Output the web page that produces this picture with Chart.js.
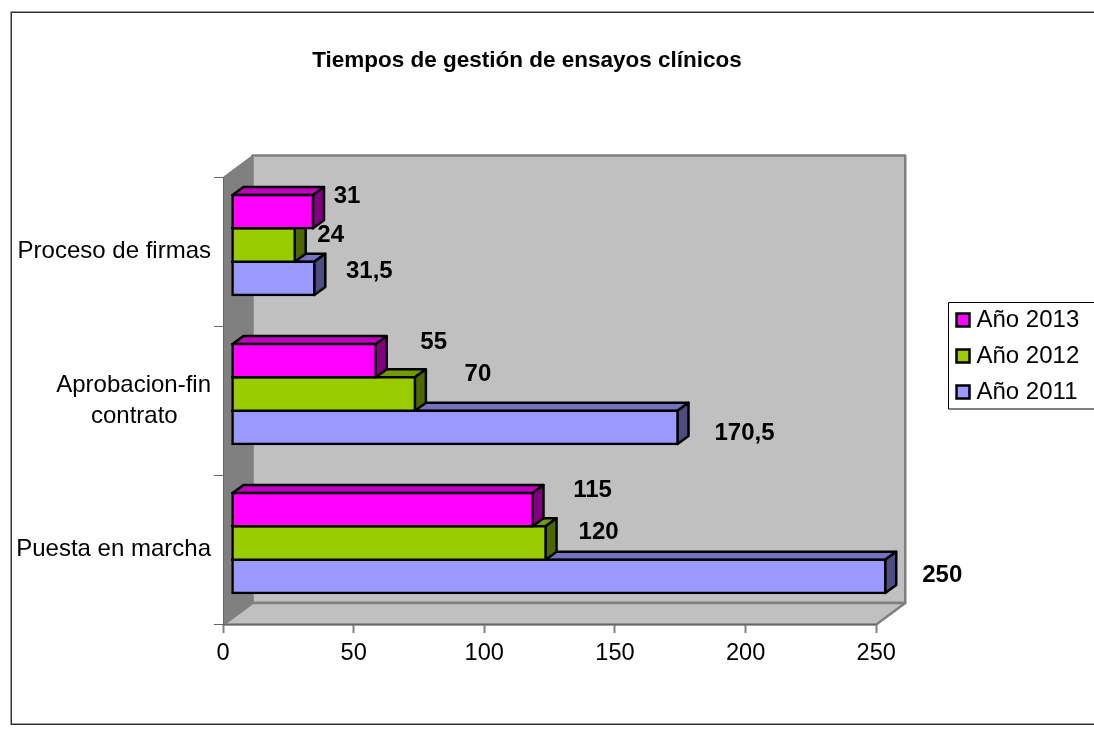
<!DOCTYPE html>
<html>
<head>
<meta charset="utf-8">
<script src="https://cdn.jsdelivr.net/npm/chart.js@4"></script>
<style>html,body{margin:0;padding:0;background:#fff}canvas{display:block}</style>
</head>
<body>
<canvas id="c" width="1094" height="731"></canvas>
<script>
const titleText = 'Tiempos de gestión de ensayos clínicos';
const categories = ['Proceso de firmas', 'Aprobacion-fin contrato', 'Puesta en marcha'];
const seriesNames = ['Año 2013', 'Año 2012', 'Año 2011'];
const values2013 = [31, 55, 115];
const values2012 = [24, 70, 120];
const values2011 = [31.5, 170.5, 250];
const xTickStep = 50;
const xMax = 250;

// label nudges relative to the end of each bar (same order as the series)
const labelNudge = [
  [[34, -16.5], [58, -19.5], [60, -20]],
  [[36, -11], [63, -21], [53, -12]],
  [[55, -8], [67, 5], [57, -2]]
];
const fills = ['#FF00FF', '#99CC00', '#9999FF'];
const tops = ['#BF00BF', '#739900', '#7373BF'];
const sides = ['#800080', '#4D6600', '#4D4D80'];
const FONT = '"Liberation Sans", Arial, sans-serif';
const WALL = {dx: 29, dy: -21.5};
const BAR_OFF = {dx: 9, dy: -6.5};
const BAR_DEPTH = {dx: 11, dy: -8};

function poly(ctx, pts, fill, stroke, lw) {
  ctx.beginPath();
  pts.forEach((p, i) => i ? ctx.lineTo(p[0], p[1]) : ctx.moveTo(p[0], p[1]));
  ctx.closePath();
  if (fill) { ctx.fillStyle = fill; ctx.fill(); }
  if (stroke) { ctx.strokeStyle = stroke; ctx.lineWidth = lw; ctx.lineJoin = 'round'; ctx.stroke(); }
}

const frame3d = {
  id: 'frame3d',
  afterLayout(chart) {
    const t = chart.titleBlock;
    t.left = 0; t.right = 1054; t.top = 49; t.bottom = 73; t.width = 1054; t.height = 24;
    const l = chart.legend;
    l.left = 949.5; l.right = 1094; l.top = 296; l.bottom = 450; l.width = l.right - l.left; l.height = l.bottom - l.top;
  },
  beforeDraw(chart) {
    const ctx = chart.ctx, a = chart.chartArea;
    ctx.save();
    ctx.fillStyle = '#fff';
    ctx.fillRect(0, 0, chart.width, chart.height);
    // outer chart frame
    ctx.strokeStyle = '#333';
    ctx.lineWidth = 1.5;
    ctx.strokeRect(11.25, 12.25, 1200, 712);
    // walls
    const L = a.left + 0.5, R = a.right, T = a.top, B = a.bottom + 0.5;
    poly(ctx, [[L + WALL.dx, T + WALL.dy], [R + WALL.dx, T + WALL.dy], [R + WALL.dx, B + WALL.dy], [L + WALL.dx, B + WALL.dy]], '#C0C0C0', '#808080', 2.5);
    poly(ctx, [[L, B], [R, B], [R + WALL.dx, B + WALL.dy], [L + WALL.dx, B + WALL.dy]], '#C0C0C0', '#808080', 2.5);
    poly(ctx, [[L, T], [L + WALL.dx, T + WALL.dy], [L + WALL.dx, B + WALL.dy], [L, B]], '#808080', '#808080', 1);
    // legend box
    ctx.strokeStyle = '#000';
    ctx.lineWidth = 1;
    ctx.fillStyle = '#fff';
    ctx.fillRect(948.5, 302.5, 200, 106.5);
    ctx.strokeRect(948.5, 302.5, 200, 106.5);
    ctx.restore();
  },
  beforeDatasetDraw(chart, args) {
    const ctx = chart.ctx, i = args.index;
    ctx.save();
    ctx.translate(BAR_OFF.dx, BAR_OFF.dy);
    const d = BAR_DEPTH;
    args.meta.data.forEach(el => {
      const x0 = el.base, x1 = el.x, y0 = el.y - el.height / 2, y1 = el.y + el.height / 2;
      poly(ctx, [[x0, y0], [x1, y0], [x1 + d.dx, y0 + d.dy], [x0 + d.dx, y0 + d.dy]], tops[i], '#000', 2.5);
      poly(ctx, [[x1, y0], [x1 + d.dx, y0 + d.dy], [x1 + d.dx, y1 + d.dy], [x1, y1]], sides[i], '#000', 2.5);
    });
  },
  afterDatasetDraw(chart) {
    chart.ctx.restore();
  },
  afterDatasetsDraw(chart) {
    const ctx = chart.ctx;
    ctx.save();
    ctx.font = 'bold 24px ' + FONT;
    ctx.fillStyle = '#000';
    ctx.textAlign = 'center';
    ctx.textBaseline = 'middle';
    chart.data.datasets.forEach((ds, i) => {
      chart.getDatasetMeta(i).data.forEach((el, j) => {
        const n = labelNudge[i][j];
        const txt = String(ds.data[j]).replace('.', ',');
        ctx.fillText(txt, el.x + BAR_OFF.dx + n[0], el.y + BAR_OFF.dy + n[1] + 1);
      });
    });
    ctx.restore();
  }
};

const seriesValues = [values2013, values2012, values2011];
new Chart(document.getElementById('c'), {
  type: 'bar',
  data: {
    labels: categories,
    datasets: seriesNames.map((name, i) => ({
      label: name,
      data: seriesValues[i],
      backgroundColor: fills[i],
      borderColor: '#000',
      borderWidth: 2.5,
      inflateAmount: 1.25,
      borderSkipped: false,
      categoryPercentage: 100 / 149,
      barPercentage: 1,
      clip: false
    }))
  },
  plugins: [frame3d],
  options: {
    indexAxis: 'y',
    responsive: false,
    animation: false,
    layout: {autoPadding: false, padding: {top: 177 - 24, bottom: 57, left: 0, right: 78}},
    plugins: {
      tooltip: {enabled: false},
      title: {
        display: true,
        text: titleText,
        color: '#000',
        padding: 0,
        font: {family: FONT, size: 22.5, weight: 'bold', lineHeight: 24 / 22.5}
      },
      legend: {
        display: true,
        position: 'right',
        align: 'start',
        labels: {
          color: '#000',
          font: {family: FONT, size: 24},
          usePointStyle: true,
          pointStyle: 'rect',
          boxWidth: 3,
          boxHeight: 13,
          padding: 12
        }
      }
    },
    scales: {
      x: {
        type: 'linear',
        min: 0,
        max: xMax,
        afterFit(s) { s.height = 50; },
        border: {color: '#666', width: 1},
        grid: {drawOnChartArea: false, drawTicks: true, tickLength: 9, tickColor: '#808080', tickWidth: 2},
        ticks: {stepSize: xTickStep, maxRotation: 0, padding: 6, color: '#000', font: {family: FONT, size: 23.6}}
      },
      y: {
        type: 'category',
        afterFit(s) { s.width = 223; },
        border: {color: '#666', width: 1},
        grid: {drawOnChartArea: false, drawTicks: true, tickLength: 9, tickColor: '#666', offset: true},
        ticks: {
          padding: 3,
          color: '#000',
          font: {family: FONT, size: 24, lineHeight: 1.3},
          autoSkip: false,
          callback(v) {
            const t = categories[v];
            const k = t.indexOf(' contrato');
            return k > 0 ? [t.slice(0, k), 'contrato' + '\u00a0'.repeat(5)] : t;
          }
        }
      }
    }
  }
});
</script>
</body>
</html>
